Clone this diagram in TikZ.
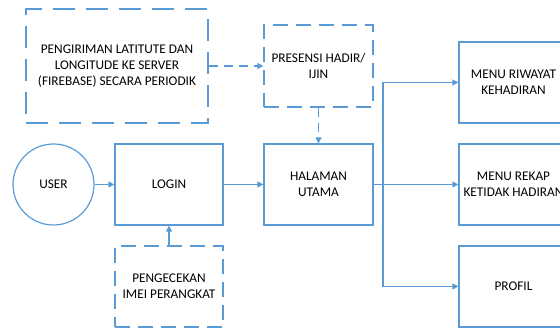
\documentclass[tikz,border=0pt]{standalone}
\usepackage{fontspec}
\setmainfont{Carlito}
\usetikzlibrary{arrows.meta}
\definecolor{obl}{HTML}{5B9BD5}
\begin{document}
\begin{tikzpicture}[x=1pt,y=-1pt,
  box/.style={draw=obl,line width=1.2pt,rectangle,inner sep=0pt,minimum width=109pt,minimum height=81pt,align=center,font=\fontsize{13.3}{16}\selectfont},
  dbox/.style={box,dash pattern=on 15pt off 8pt},
  conn/.style={draw=obl,line width=1.2pt,-{Triangle[length=6pt,width=6pt]}},
  dconn/.style={conn,dash pattern=on 9pt off 6pt}]
\useasboundingbox (0,0) rectangle (560,331);
\clip (0,0) rectangle (560,331);
\node[dbox,minimum width=182pt,minimum height=114pt,dash pattern=on 22pt off 11pt] (send) at (117,66) {PENGIRIMAN LATITUTE DAN\\LONGITUDE KE SERVER\\(FIREBASE) SECARA PERIODIK};
\node[dbox,minimum height=82pt] (pres) at (318.5,66) {PRESENSI HADIR/\\IJIN};
\node[box] (hal) at (318.5,184.5) {HALAMAN\\UTAMA};
\node[box,minimum width=108pt] (login) at (169,184.5) {LOGIN};
\node[dbox,minimum width=108pt] (imei) at (169,286.5) {PENGECEKAN\\IMEI PERANGKAT};
\node[draw=obl,line width=1.2pt,circle,inner sep=0pt,minimum size=81pt,font=\fontsize{13.3}{16}\selectfont] (user) at (53.5,184.5) {USER};
\node[box] (riw) at (513.5,82.5) {MENU RIWAYAT\\KEHADIRAN};
\node[box] (rek) at (513.5,184.5) {MENU REKAP\\KETIDAK HADIRAN};
\node[box] (prof) at (513.5,286.5) {PROFIL};
\coordinate (br) at (383,184.5);
\draw[dconn] (send.east) -- (pres.west);
\draw[dconn] (pres.south) -- (hal.north);
\draw[conn] (user) -- (login);
\draw[conn] (login) -- (hal);
\draw[conn] (imei.north) -- (login.south);
\draw[conn] (hal.east) -- (rek.west);
\draw[conn] (br) |- (riw.west);
\draw[conn] (br) |- (prof.west);
\end{tikzpicture}
\end{document}
